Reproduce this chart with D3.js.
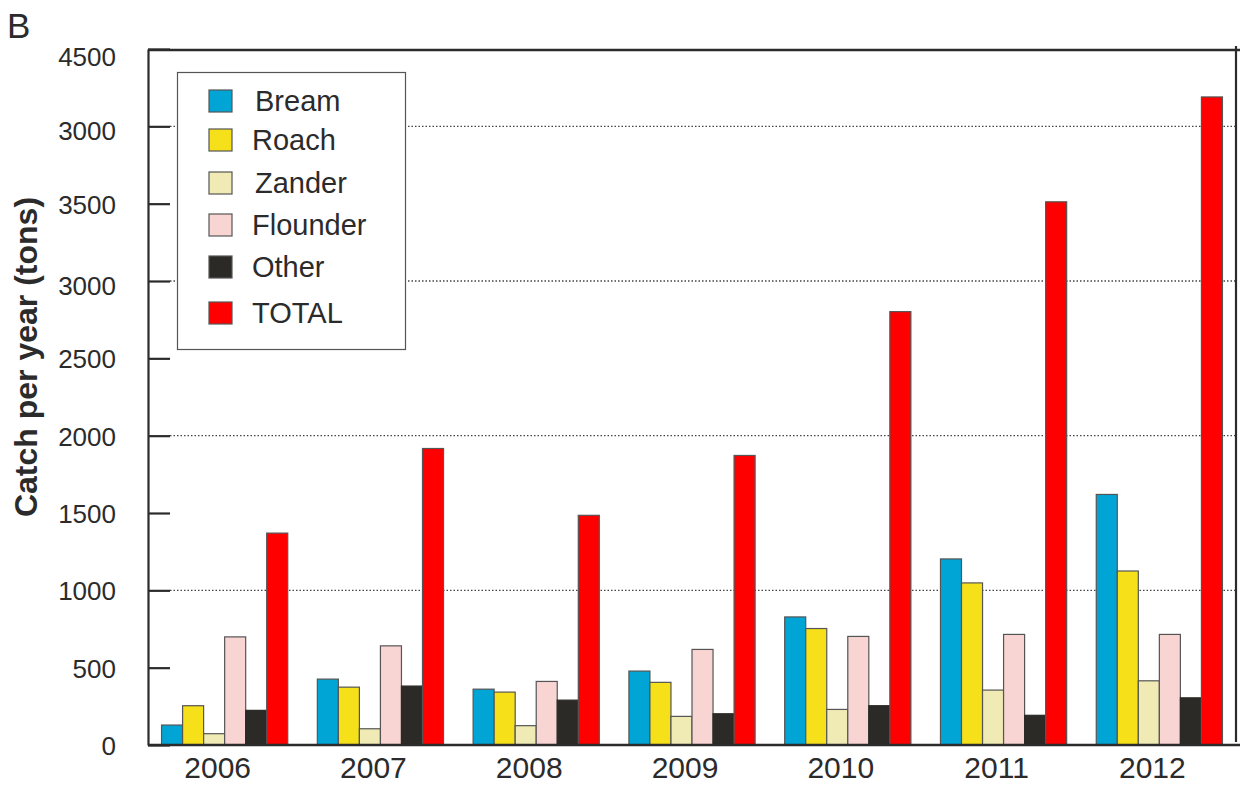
<!DOCTYPE html>
<html>
<head>
<meta charset="utf-8">
<script src="https://cdn.jsdelivr.net/npm/d3@7"></script>
<style>
  body { margin: 0; background: #fff; }
  text { font-family: "Liberation Sans", Arial, sans-serif; fill: #2b2b2b; }
</style>
</head>
<body>
<div class="graph"></div>
<script>
// data
var years = ["2006", "2007", "2008", "2009", "2010", "2011", "2012"];
var species = ["Bream", "Roach", "Zander", "Flounder", "Other", "TOTAL"];
var colors = ["#00a5d6", "#f6e01a", "#f0ebb4", "#f8d5d3", "#2b2a26", "#ff0000"];
var bream    = [129, 426, 361, 478, 828, 1203, 1620];
var roach    = [254, 374, 342, 405, 753, 1048, 1125];
var zander   = [73, 105, 125, 185, 230, 355, 415];
var flounder = [699, 641, 411, 618, 702, 715, 715];
var other    = [224, 381, 290, 202, 254, 192, 305];
var total    = [1370, 1917, 1485, 1872, 2802, 3512, 4190];
// tick labels exactly as printed on the original axis
var tickValues = [0, 500, 1000, 1500, 2000, 2500, 3000, 3500, 4000, 4500];
var tickLabels = ["0", "500", "1000", "1500", "2000", "2500", "3000", "3500", "3000", "4500"];
var gridValues = [1000, 2000, 3000, 4000];

var w = 1243;
var h = 787;
var plotLeft = 148, plotRight = 1236, plotTop = 49, plotBottom = 745;

var series = [bream, roach, zander, flounder, other, total];

var svg = d3.select("div.graph")
  .append("svg")
  .attr("width", w)
  .attr("height", h);

svg.append("rect").attr("width", w).attr("height", h).attr("fill", "#fff");

var y = d3.scaleLinear().domain([0, 4500]).range([plotBottom, plotTop]);

var x0 = d3.scaleBand()
  .domain(years)
  .range([plotLeft, plotRight])
  .paddingInner(0.19)
  .paddingOuter(0.087);

var x1 = d3.scaleBand()
  .domain(species)
  .range([0, x0.bandwidth()]);

var color = d3.scaleOrdinal().domain(species).range(colors);

// dotted grid lines
svg.append("g")
  .selectAll("line")
  .data(gridValues)
  .enter()
  .append("line")
  .attr("x1", plotLeft + 22)
  .attr("x2", plotRight)
  .attr("y1", function(d) { return y(d); })
  .attr("y2", function(d) { return y(d); })
  .attr("stroke", "#444")
  .attr("stroke-width", 1.3)
  .attr("stroke-dasharray", "1.5,2");

// bars
var groups = svg.append("g")
  .selectAll("g")
  .data(years)
  .enter()
  .append("g")
  .attr("transform", function(d) { return "translate(" + x0(d) + ",0)"; });

groups.selectAll("rect")
  .data(function(d, i) {
    return species.map(function(s, j) { return { key: s, value: series[j][i] }; });
  })
  .enter()
  .append("rect")
  .attr("x", function(d) { return x1(d.key); })
  .attr("y", function(d) { return y(d.value); })
  .attr("width", x1.bandwidth())
  .attr("height", function(d) { return plotBottom - y(d.value); })
  .attr("fill", function(d) { return color(d.key); })
  .attr("stroke", function(d) { return d.key == "Other" ? "#2b2a26" : "#555"; })
  .attr("stroke-width", 1.2);

// y axis with inward ticks
var yAxis = d3.axisLeft(y)
  .tickValues(tickValues)
  .tickFormat(function(d, i) { return tickLabels[i]; })
  .tickSizeInner(-22)
  .tickSizeOuter(0)
  .tickPadding(32);

var ga = svg.append("g")
  .attr("transform", "translate(" + plotLeft + ",0)")
  .call(yAxis);
ga.attr("font-size", null).attr("font-family", null);
ga.select(".domain").attr("stroke", "#2b2b2b").attr("stroke-width", 2.2);
ga.selectAll(".tick line").attr("stroke", "#2b2b2b").attr("stroke-width", 2.2);
ga.selectAll(".tick text")
  .attr("font-size", 26)
  .attr("dy", function(d) {
    if (d == 4500) return "0.62em";
    if (d == 3000 || d == 4000) return "0.52em";
    return "0.36em";
  })
  .attr("fill", "#2b2b2b");

// x axis
var xAxis = d3.axisBottom(x0).tickSize(0).tickPadding(12);
var gx = svg.append("g")
  .attr("transform", "translate(0," + plotBottom + ")")
  .call(xAxis);
gx.attr("font-size", null).attr("font-family", null);
gx.select(".domain").attr("stroke", "#2b2b2b").attr("stroke-width", 2.4)
  .attr("d", "M" + plotLeft + ",0H" + (plotRight + 4));
gx.selectAll(".tick text")
  .attr("dx", -7)
  .attr("font-size", 30)
  .attr("fill", "#2b2b2b");

// top and right frame lines
svg.append("line")
  .attr("x1", plotLeft).attr("x2", plotRight + 4)
  .attr("y1", plotTop + 1).attr("y2", plotTop + 1)
  .attr("stroke", "#2b2b2b").attr("stroke-width", 2.4);
svg.append("line")
  .attr("x1", plotRight).attr("x2", plotRight)
  .attr("y1", plotTop - 3).attr("y2", plotBottom - 3)
  .attr("stroke", "#2b2b2b").attr("stroke-width", 2.2);

// y title
svg.append("text")
  .attr("transform", "translate(37,357) rotate(-90)")
  .attr("text-anchor", "middle")
  .attr("font-size", 32)
  .attr("font-weight", "bold")
  .text("Catch per year (tons)");

// panel letter
svg.append("text")
  .attr("x", 7)
  .attr("y", 38)
  .attr("font-size", 35)
  .attr("fill", "#111")
  .text("B");

// legend
var legend = svg.append("g");
legend.append("rect")
  .attr("x", 177.5).attr("y", 72.5)
  .attr("width", 228).attr("height", 277)
  .attr("fill", "#fff")
  .attr("stroke", "#555")
  .attr("stroke-width", 1.2);

var legY = [101, 140, 183, 225, 267, 313];
var legItems = legend.selectAll("g.item")
  .data(species)
  .enter()
  .append("g")
  .attr("class", "item")
  .attr("transform", function(d, i) { return "translate(0," + legY[i] + ")"; });

legItems.append("rect")
  .attr("x", 209)
  .attr("y", -11)
  .attr("width", 23)
  .attr("height", 22)
  .attr("fill", function(d) { return color(d); })
  .attr("stroke", "#555")
  .attr("stroke-width", 1.2);

legItems.append("text")
  .attr("x", function(d, i) { return i == 0 || i == 2 ? 255 : 252; })
  .attr("y", 10)
  .attr("font-size", 29)
  .text(function(d) { return d; });
</script>
</body>
</html>
